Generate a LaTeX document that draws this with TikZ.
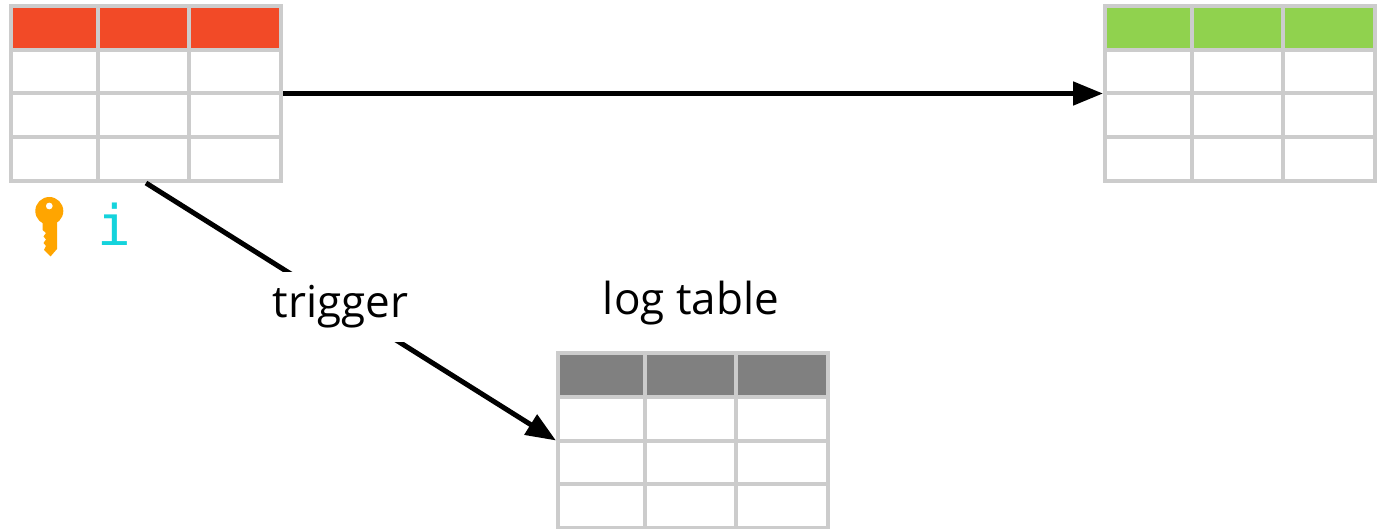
\documentclass[tikz,border=0pt]{standalone}
\usepackage{fontspec}
\setmainfont{Open Sans}
\newfontfamily\monofam{DejaVu Sans Mono}
\usetikzlibrary{arrows.meta,positioning}
\definecolor{gridgray}{HTML}{CCCCCC}
\definecolor{headred}{HTML}{F24A27}
\definecolor{headgreen}{HTML}{90D24E}
\definecolor{headgray}{HTML}{808080}
\definecolor{keyorange}{HTML}{FFA500}
\definecolor{infocyan}{HTML}{14D3DC}
\tikzset{
    tablebox/.style={draw=gridgray, line width=4pt, minimum width=270pt, minimum height=175pt, inner sep=0pt},
    gridline/.style={draw=gridgray, line width=4pt},
    linkarrow/.style={draw=black, line width=5pt, -{Triangle[length=30pt,width=23pt]}},
    labeltext/.style={font=\fontsize{44}{44}\selectfont, text=black}
}

\begin{document}
\begin{tikzpicture}[x=1pt,y=-1pt]
            \useasboundingbox (0,0) rectangle (1382,529);
            \foreach \tn/\ox/\oy/\hc in {srctable/0/0/headred,dsttable/1094/0/headgreen,logtable/547/347/headgray}
                {
                \fill[\hc] (\ox+9,\oy+4) rectangle (\ox+281,\oy+50);
                \node[tablebox] (\tn) at (\ox+146,\oy+93.5) {};
                \foreach \c in {98,189}
                    {
                    \draw[gridline] (\ox+\c,\oy+6) -- (\ox+\c,\oy+181);
                    }
                \foreach \r in {50,93.5,137}
                    {
                    \draw[gridline] (\ox+11,\oy+\r) -- (\ox+281,\oy+\r);
                    }
                }
                % key icon
                \fill[keyorange, even odd rule] (49.3,211) circle (14) (49.3,206) circle (3.5);
                \fill[keyorange] (42.5,218) -- (57,218) -- (57,249) -- (50.5,256.5) -- (44,250)
                    -- (46,246) -- (43.5,243) -- (46,239.5) -- (43.5,236.5) -- (46,233) -- (42.5,230) -- cycle;
                \node[text=infocyan, font=\monofam\fontsize{56}{56}\selectfont, inner sep=0pt] (infomark) at (114.5,224) {i};
                \draw[linkarrow] (srctable.east) -- (dsttable.west);
                \draw[linkarrow] (srctable.south) -- node[pos=0.47, xshift=2pt, yshift=-3pt, fill=white, labeltext, inner sep=6pt, minimum height=70pt] (triggerlabel) {trigger} (logtable.west);
                \node[labeltext, inner sep=0pt] (loglabel) at (691,303) {log table};

        \end{tikzpicture}
\end{document}
